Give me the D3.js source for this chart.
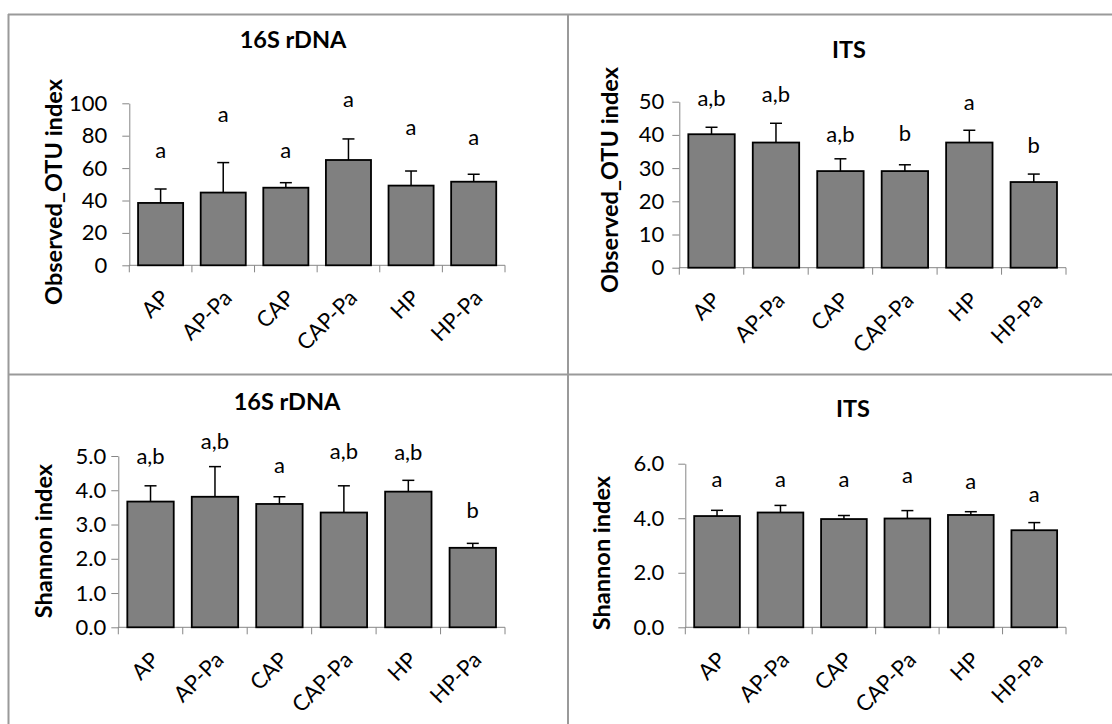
<!DOCTYPE html>
<html>
<head>
<meta charset="utf-8">
<script src="https://cdn.jsdelivr.net/npm/d3@7"></script>
<style>
  body { margin: 0; background: #fff; }
  text { font-family: Lato, "Liberation Sans", sans-serif; }
</style>
</head>
<body>
<script>
var categories = ["AP", "AP-Pa", "CAP", "CAP-Pa", "HP", "HP-Pa"];

// top left: 16S rDNA, observed OTUs
var otu16sMean = [38.5, 44.9, 47.9, 65.0, 49.2, 51.6];
var otu16sErr = [8.6, 18.5, 3.1, 13.0, 9.0, 4.6];
var otu16sLetters = ["a", "a", "a", "a", "a", "a"];
var otu16sLetterY = [66, 88.7, 66.5, 98, 80.5, 74.3];
var otu16sTicks = [0, 20, 40, 60, 80, 100];

// top right: ITS, observed OTUs
var otuItsMean = [40.2, 37.7, 29.1, 29.1, 37.7, 25.8];
var otuItsErr = [2.1, 5.8, 3.7, 1.9, 3.7, 2.4];
var otuItsLetters = ["a,b", "a,b", "a,b", "b", "a", "b"];
var otuItsLetterY = [48.7, 50.0, 38.0, 38.2, 47.5, 34.6];
var otuItsTicks = [0, 10, 20, 30, 40, 50];

// bottom left: 16S rDNA, Shannon
var sha16sMean = [3.67, 3.81, 3.60, 3.35, 3.96, 2.32];
var sha16sErr = [0.46, 0.88, 0.21, 0.78, 0.33, 0.13];
var sha16sLetters = ["a,b", "a,b", "a", "a,b", "a,b", "b"];
var sha16sLetterY = [4.77, 5.19, 4.51, 4.91, 4.88, 3.18];
var sha16sTicks = [0, 1, 2, 3, 4, 5];

// bottom right: ITS, Shannon
var shaItsMean = [4.08, 4.21, 3.97, 3.99, 4.12, 3.56];
var shaItsErr = [0.21, 0.26, 0.13, 0.29, 0.12, 0.28];
var shaItsLetters = ["a", "a", "a", "a", "a", "a"];
var shaItsLetterY = [5.16, 5.13, 5.16, 5.28, 5.07, 4.61];
var shaItsTicks = [0, 2, 4, 6];

var width = 1112;
var height = 724;
var fontSize = 22;

var panels = [
  { title: "16S rDNA", ylab: "Observed_OTU index", mean: otu16sMean, err: otu16sErr,
    letters: otu16sLetters, letterY: otu16sLetterY, ticks: otu16sTicks, fmt: "d",
    left: 129.3, right: 505, y0: 265.3, yTop: 103.3, pad: 15,
    titleX: 293, titleY: 48, labX: 62, labY: 192 },
  { title: "ITS", ylab: "Observed_OTU index", mean: otuItsMean, err: otuItsErr,
    letters: otuItsLetters, letterY: otuItsLetterY, ticks: otuItsTicks, fmt: "d",
    left: 679.3, right: 1066, y0: 267.7, yTop: 101.7, pad: 8,
    titleX: 849, titleY: 58, labX: 618, labY: 180 },
  { title: "16S rDNA", ylab: "Shannon index", mean: sha16sMean, err: sha16sErr,
    letters: sha16sLetters, letterY: sha16sLetterY, ticks: sha16sTicks, fmt: ".1f",
    left: 118.3, right: 505, y0: 627.3, yTop: 456, pad: 5,
    titleX: 287, titleY: 410, labX: 52, labY: 541 },
  { title: "ITS", ylab: "Shannon index", mean: shaItsMean, err: shaItsErr,
    letters: shaItsLetters, letterY: shaItsLetterY, ticks: shaItsTicks, fmt: ".1f",
    left: 685.3, right: 1066, y0: 627.3, yTop: 463.7, pad: 14,
    titleX: 853, titleY: 417, labX: 609.5, labY: 553 }
];

var svg = d3.select("body")
  .append("svg")
  .attr("width", width)
  .attr("height", height);

svg.append("rect")
  .attr("width", width)
  .attr("height", height)
  .attr("fill", "#fff");

// frame lines around the four panels
var frame = [
  [8.5, 14, 8.5, height],
  [8, 14.5, width, 14.5],
  [568, 14, 568, height],
  [8, 374.5, width, 374.5]
];
svg.selectAll("line.frame")
  .data(frame)
  .enter()
  .append("line")
  .attr("class", "frame")
  .attr("x1", function(d) { return d[0]; })
  .attr("y1", function(d) { return d[1]; })
  .attr("x2", function(d) { return d[2]; })
  .attr("y2", function(d) { return d[3]; })
  .attr("stroke", "#9a9a9a")
  .attr("stroke-width", 2);

// y label size: "Observed_OTU index" runs about 226px in the reference
var probe = svg.append("text")
  .text(panels[0].ylab)
  .attr("font-weight", "bold")
  .attr("font-size", "20px");
var ylabSize = 20 * 226 / probe.node().getComputedTextLength();
probe.remove();

panels.forEach(drawPanel);

function drawPanel(p) {
  var g = svg.append("g");
  var rows = categories.map(function(c, i) {
    return { cat: c, mean: p.mean[i], err: p.err[i], letter: p.letters[i], ly: p.letterY[i] };
  });

  var x = d3.scaleBand()
    .domain(categories)
    .range([p.left, p.right])
    .paddingInner(0.28)
    .paddingOuter(0.14);

  var y = d3.scaleLinear()
    .domain([0, d3.max(p.ticks)])
    .range([p.y0, p.yTop]);

  // y axis
  var yAxis = g.append("g")
    .attr("transform", "translate(" + p.left + ",0)")
    .call(d3.axisLeft(y)
      .tickValues(p.ticks)
      .tickFormat(d3.format(p.fmt))
      .tickSize(7)
      .tickSizeOuter(0)
      .tickPadding(p.pad));
  yAxis.select(".domain").attr("stroke", "#868686");
  yAxis.selectAll(".tick line").attr("stroke", "#868686");
  yAxis.selectAll(".tick text")
    .attr("fill", "#000")
    .style("font-size", fontSize + "px")
    .style("font-family", "Lato, sans-serif");

  // x axis line with ticks at the category boundaries
  g.append("line")
    .attr("x1", p.left)
    .attr("x2", p.right)
    .attr("y1", p.y0)
    .attr("y2", p.y0)
    .attr("stroke", "#868686");

  g.selectAll("line.xtick")
    .data(d3.range(categories.length + 1))
    .enter()
    .append("line")
    .attr("class", "xtick")
    .attr("x1", function(i) { return p.left + i * x.step(); })
    .attr("x2", function(i) { return p.left + i * x.step(); })
    .attr("y1", p.y0)
    .attr("y2", p.y0 + 7)
    .attr("stroke", "#868686");

  // bars
  g.selectAll("rect.bar")
    .data(rows)
    .enter()
    .append("rect")
    .attr("class", "bar")
    .attr("x", function(d) { return x(d.cat); })
    .attr("y", function(d) { return y(d.mean); })
    .attr("width", x.bandwidth())
    .attr("height", function(d) { return p.y0 - y(d.mean); })
    .attr("fill", "#808080")
    .attr("stroke", "#000")
    .attr("stroke-width", 1.8);

  // error bars, upper half only
  g.selectAll("line.err")
    .data(rows)
    .enter()
    .append("line")
    .attr("class", "err")
    .attr("x1", function(d) { return x(d.cat) + x.bandwidth() / 2; })
    .attr("x2", function(d) { return x(d.cat) + x.bandwidth() / 2; })
    .attr("y1", function(d) { return y(d.mean); })
    .attr("y2", function(d) { return y(d.mean + d.err); })
    .attr("stroke", "#000")
    .attr("stroke-width", 1.5);

  g.selectAll("line.cap")
    .data(rows)
    .enter()
    .append("line")
    .attr("class", "cap")
    .attr("x1", function(d) { return x(d.cat) + x.bandwidth() / 2 - 6; })
    .attr("x2", function(d) { return x(d.cat) + x.bandwidth() / 2 + 6; })
    .attr("y1", function(d) { return y(d.mean + d.err); })
    .attr("y2", function(d) { return y(d.mean + d.err); })
    .attr("stroke", "#000")
    .attr("stroke-width", 1.5);

  // significance letters
  g.selectAll("text.letter")
    .data(rows)
    .enter()
    .append("text")
    .attr("class", "letter")
    .text(function(d) { return d.letter; })
    .attr("x", function(d) { return x(d.cat) + x.bandwidth() / 2; })
    .attr("y", function(d) { return y(d.ly); })
    .attr("text-anchor", "middle")
    .attr("font-size", fontSize + "px");

  // rotated category labels
  g.selectAll("text.cat")
    .data(rows)
    .enter()
    .append("text")
    .attr("class", "cat")
    .text(function(d) { return d.cat; })
    .attr("transform", function(d) {
      var cx = x(d.cat) + x.bandwidth() / 2 + 10;
      return "translate(" + cx + "," + (p.y0 + 34) + ") rotate(-45)";
    })
    .attr("text-anchor", "end")
    .attr("font-size", fontSize + "px");

  g.append("text")
    .text(p.title)
    .attr("x", p.titleX)
    .attr("y", p.titleY)
    .attr("text-anchor", "middle")
    .attr("font-weight", "bold")
    .attr("font-size", "23.5px");

  g.append("text")
    .text(p.ylab)
    .attr("transform", "translate(" + p.labX + "," + p.labY + ") rotate(-90)")
    .attr("text-anchor", "middle")
    .attr("font-weight", "bold")
    .attr("font-size", ylabSize + "px");
}
</script>
</body>
</html>
